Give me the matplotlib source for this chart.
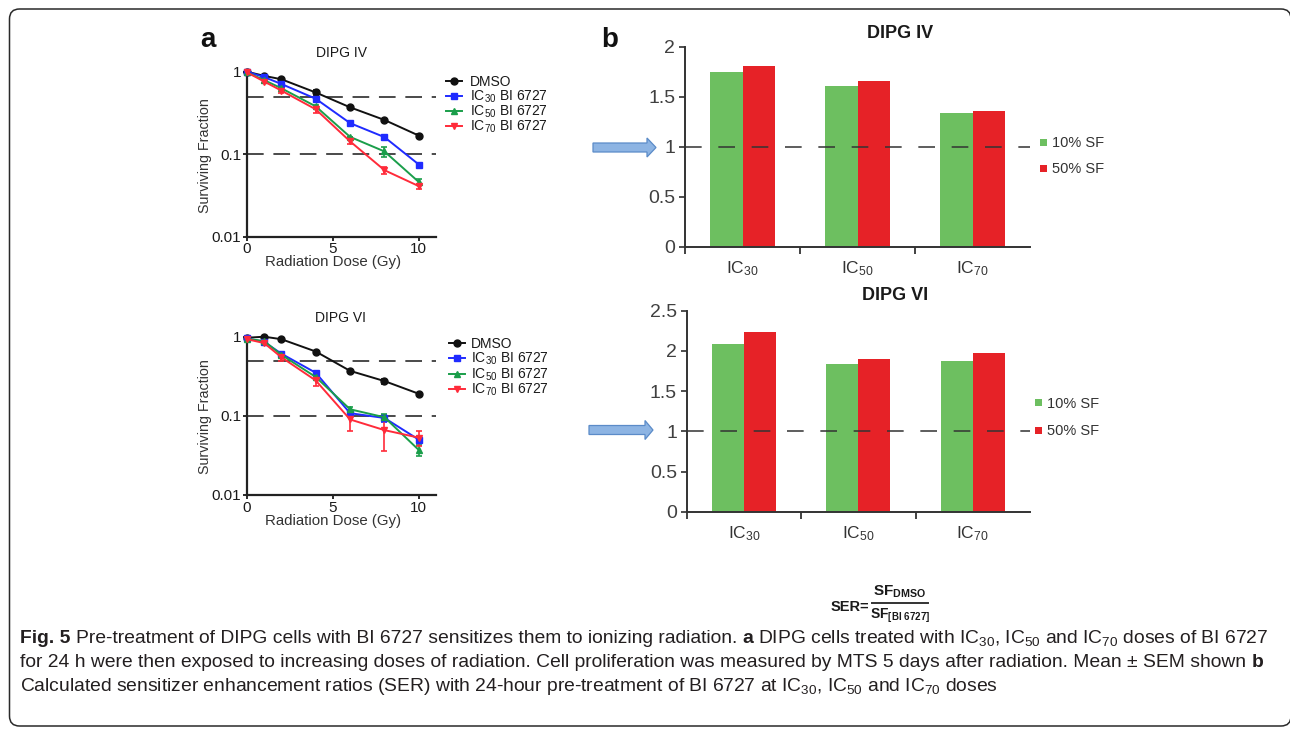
import matplotlib
matplotlib.use('Agg')
import matplotlib.pyplot as plt
from matplotlib.lines import Line2D
from matplotlib.patches import Rectangle, Polygon, FancyBboxPatch
from matplotlib.transforms import IdentityTransform
from matplotlib.ticker import NullLocator, FixedLocator
from matplotlib import font_manager

W, H = 1290, 730
plt.rcParams['font.family'] = ['Liberation Sans', 'DejaVu Sans']
plt.rcParams['mathtext.default'] = 'regular'
plt.rcParams['lines.scale_dashes'] = False

# ---------------- data ----------------
dose = [0, 1, 2, 4, 6, 8, 10]
series_labels = ['DMSO', 'IC$_{30}$ BI 6727', 'IC$_{50}$ BI 6727', 'IC$_{70}$ BI 6727']

# DIPG IV surviving fraction
dmso_iv = [1.0, 0.89, 0.81, 0.56, 0.37, 0.26, 0.168]
ic30_iv = [1.0, 0.86, 0.71, 0.47, 0.238, 0.161, 0.075]
ic50_iv = [0.98, 0.79, 0.63, 0.38, 0.162, 0.108, 0.046]
ic70_iv = [0.98, 0.76, 0.59, 0.35, 0.143, 0.064, 0.041]
dmso_iv_err = [0, 0, 0, 0.04, 0, 0, 0.01]
ic30_iv_err = [0, 0, 0, 0.02, 0, 0, 0.002]
ic50_iv_err = [0, 0, 0, 0.02, 0, 0.015, 0.004]
ic70_iv_err = [0, 0.04, 0.04, 0.03, 0.01, 0.006, 0.003]

# DIPG VI surviving fraction
dmso_vi = [0.97, 1.0, 0.93, 0.65, 0.37, 0.275, 0.19]
ic30_vi = [0.95, 0.86, 0.61, 0.35, 0.108, 0.094, 0.05]
ic50_vi = [0.94, 0.88, 0.59, 0.31, 0.121, 0.096, 0.037]
ic70_vi = [0.93, 0.83, 0.55, 0.28, 0.090, 0.066, 0.053]
dmso_vi_err = [0, 0, 0, 0, 0, 0.02, 0]
ic30_vi_err = [0, 0, 0, 0.02, 0.01, 0.01, 0.005]
ic50_vi_err = [0, 0, 0, 0.02, 0.01, 0.01, 0.006]
ic70_vi_err = [0, 0.05, 0.05, 0.04, 0.025, 0.03, 0.012]

# SER bars
ser_cats = ['IC$_{30}$', 'IC$_{50}$', 'IC$_{70}$']
ser_labels = ['10% SF', '50% SF']
ser_iv_10 = [1.75, 1.61, 1.34]
ser_iv_50 = [1.81, 1.66, 1.355]
ser_vi_10 = [2.09, 1.84, 1.87]
ser_vi_50 = [2.23, 1.90, 1.97]

line_colors = ['#111111', '#1f2bff', '#1a9e4a', '#ff2b3a']
line_markers = ['o', 's', '^', 'v']
bar_colors = ['#6dbf60', '#e62227']

# ---------------- figure ----------------
fig = plt.figure(figsize=(W / 100, H / 100), dpi=100)
fig.patch.set_facecolor('white')


def fx(x):
    return x / W


def fy(y):
    return 1 - y / H


def add_ax(l, t, r, b):
    return fig.add_axes([l / W, 1 - b / H, (r - l) / W, (b - t) / H])


# frame
frame = FancyBboxPatch((9.5, H - 726), 1291 - 9.5, 726 - 9, boxstyle='round,pad=0,rounding_size=10',
                       transform=IdentityTransform(), facecolor='none', edgecolor='#2a2a2a', lw=1.1)
fig.add_artist(frame)

TXT = '#1a1a1a'


def line_panel(box, title, title_xy, vals, errs, ylab_xy, xlab_xy):
    ax = add_ax(*box)
    for v, e, c, m in zip(vals, errs, line_colors, line_markers):
        ax.errorbar(dose, v, yerr=e, color=c, marker=m, ms=5, lw=1.4, elinewidth=1.2,
                    capsize=2.5, capthick=1.2, clip_on=False, zorder=3)
    ax.set_yscale('log')
    ax.set_ylim(0.01, 1)
    ax.set_xlim(0, 11)
    for yv in (0.5, 0.1):
        ax.axhline(yv, color='#4a4a4a', lw=1.4, ls=(0, (12, 7)), zorder=1)
    ax.yaxis.set_major_locator(FixedLocator([0.01, 0.1, 1]))
    ax.yaxis.set_minor_locator(NullLocator())
    ax.set_yticklabels(['0.01', '0.1', '1'])
    ax.set_xticks([0, 5, 10])
    ax.tick_params(direction='out', length=3, width=1.3, labelsize=11, pad=1, colors=TXT)
    for s in ('top', 'right'):
        ax.spines[s].set_visible(False)
    for s in ('left', 'bottom'):
        ax.spines[s].set_linewidth(1.6)
        ax.spines[s].set_color('#222222')
    fig.text(fx(title_xy[0]), fy(title_xy[1]), title, ha='center', va='center', fontsize=10, color=TXT)
    fig.text(fx(ylab_xy[0]), fy(ylab_xy[1]), 'Surviving Fraction', rotation=90, ha='center', va='center',
             fontsize=10.3, color='#333333')
    fig.text(fx(xlab_xy[0]), fy(xlab_xy[1]), 'Radiation Dose (Gy)', ha='center', va='center',
             fontsize=10.8, color='#333333')
    return ax


line_panel((247, 71.7, 436, 236.7), 'DIPG IV', (341, 53),
           [dmso_iv, ic30_iv, ic50_iv, ic70_iv], [dmso_iv_err, ic30_iv_err, ic50_iv_err, ic70_iv_err],
           (205, 156), (333, 262))
line_panel((247, 336.7, 436, 495), 'DIPG VI', (340, 318),
           [dmso_vi, ic30_vi, ic50_vi, ic70_vi], [dmso_vi_err, ic30_vi_err, ic50_vi_err, ic70_vi_err],
           (205, 417), (333, 521))


def line_legend(x0, x1, xt, ys):
    for lab, c, m, y in zip(series_labels, line_colors, line_markers, ys):
        fig.add_artist(Line2D([fx(x0), fx((x0 + x1) / 2), fx(x1)], [fy(y)] * 3, color=c, lw=1.4,
                              marker=m, markevery=[1], ms=5, transform=fig.transFigure))
        fig.text(fx(xt), fy(y + 4.6), lab, ha='left', va='baseline', fontsize=10, color=TXT)


line_legend(446, 462, 470, [81, 96, 111, 126])
line_legend(449, 465, 471, [343, 358, 374, 389])


def bar_panel(box, vals10, vals50, ymax, yticks, ytl, title, title_xy, leg_x, leg_ys):
    ax = add_ax(*box)
    x = list(range(len(ser_cats)))
    w = 0.28
    ax.bar([i - w / 2 for i in x], vals10, width=w, color=bar_colors[0], zorder=1)
    ax.bar([i + w / 2 for i in x], vals50, width=w, color=bar_colors[1], zorder=1)
    ax.axhline(1, color='#333333', lw=1.3, ls=(0, (12, 12)), zorder=3, alpha=0.85)
    ax.set_xlim(-0.5, 2.5)
    ax.set_ylim(0, ymax)
    ax.set_yticks(yticks)
    ax.set_yticklabels(ytl)
    ax.xaxis.set_major_locator(FixedLocator([-0.5, 0.5, 1.5]))
    ax.xaxis.set_minor_locator(FixedLocator(x))
    ax.set_xticklabels([], minor=False)
    ax.set_xticklabels(ser_cats, minor=True)
    ax.tick_params(axis='x', which='minor', length=0, pad=9, labelsize=12.5, colors='#333333')
    ax.tick_params(axis='x', which='major', length=5, width=1.3, direction='out', color='#333333')
    ax.tick_params(axis='y', length=4, width=1.3, direction='out', labelsize=14, pad=3, colors='#404040')
    for s in ('top', 'right'):
        ax.spines[s].set_visible(False)
    for s in ('left', 'bottom'):
        ax.spines[s].set_linewidth(1.4)
        ax.spines[s].set_color('#333333')
    fig.text(fx(title_xy[0]), fy(title_xy[1]), title, ha='center', va='center', fontsize=13,
             fontweight='bold', color=TXT)
    for lab, c, y in zip(ser_labels, bar_colors, leg_ys):
        fig.add_artist(Rectangle((fx(leg_x), fy(y + 3.5)), 7 / W, 7 / H, facecolor=c, edgecolor='none',
                                 transform=fig.transFigure))
        fig.text(fx(leg_x + 12), fy(y + 5), lab, ha='left', va='baseline', fontsize=10.5, color='#333333')
    return ax


bar_panel((685, 46.7, 1030, 246.7), ser_iv_10, ser_iv_50, 2, [0, 0.5, 1, 1.5, 2],
          ['0', '0.5', '1', '1.5', '2'], 'DIPG IV', (900, 33), 1040, [142, 168])
bar_panel((686.7, 310.7, 1030, 511.7), ser_vi_10, ser_vi_50, 2.5, [0, 0.5, 1, 1.5, 2, 2.5],
          ['0', '0.5', '1', '1.5', '2', '2.5'], 'DIPG VI', (895, 295), 1035, [403, 430])


# arrows
def arrow(x0, x1, xh, yc, bh, hh):
    pts = [(x0, yc - bh / 2), (x1, yc - bh / 2), (x1, yc - hh / 2), (xh, yc), (x1, yc + hh / 2),
           (x1, yc + bh / 2), (x0, yc + bh / 2)]
    fig.add_artist(Polygon([(fx(a), fy(b)) for a, b in pts], closed=True, facecolor='#8db4e3',
                           edgecolor='#5b8bc8', lw=0.9, transform=fig.transFigure))


arrow(593, 647, 656, 147.5, 9, 19)
arrow(589, 645, 653, 430, 9, 19)

# panel letters
fig.text(fx(208), fy(40), 'a', ha='center', va='center', fontsize=20, fontweight='bold', color='#111111')
fig.text(fx(610), fy(40), 'b', ha='center', va='center', fontsize=20, fontweight='bold', color='#111111')

# fonts for caption
avail = {f.name for f in font_manager.fontManager.ttflist}
cap_family = 'Liberation Sans Narrow' if 'Liberation Sans Narrow' in avail else 'Liberation Sans'

# SER formula
fig.text(fx(869), fy(611), 'SER=', ha='right', va='baseline', fontsize=10.5, fontweight='bold',
         family=cap_family, color=TXT)
fig.text(fx(900), fy(596), 'SF$_{DMSO}$', ha='center', va='baseline', fontsize=11, fontweight='bold',
         family=cap_family, color=TXT)
fig.text(fx(900), fy(619), 'SF$_{[BI\\ 6727]}$', ha='center', va='baseline', fontsize=10, fontweight='bold',
         family=cap_family, color=TXT)
fig.add_artist(Line2D([fx(872), fx(928)], [fy(603), fy(603)], color='#333333', lw=1.4,
                      transform=fig.transFigure))

# caption
cap_lines = [
    [('Fig. 5', True),
     ('Pre-treatment of DIPG cells with BI 6727 sensitizes them to ionizing radiation.', False),
     ('a', True),
     ('DIPG cells treated with IC$_{30}$, IC$_{50}$ and IC$_{70}$ doses of BI 6727', False)],
    [('for 24 h were then exposed to increasing doses of radiation. Cell proliferation was measured by MTS 5 days after radiation. Mean \u00b1 SEM shown', False),
     ('b', True)],
    [('Calculated sensitizer enhancement ratios (SER) with 24-hour pre-treatment of BI 6727 at IC$_{30}$, IC$_{50}$ and IC$_{70}$ doses', False)],
]
cap_baselines = [643, 667, 691]

renderer = fig.canvas.get_renderer()


def measure(s, size, bold):
    t = fig.text(0, 0, s, fontsize=size, fontweight='bold' if bold else 'normal', family=cap_family)
    w = t.get_window_extent(renderer).width
    t.remove()
    return w


def line_width(pieces, size):
    sp = measure('a a', size, False) - measure('aa', size, False)
    return sum(measure(s, size, b) for s, b in pieces) + sp * (len(pieces) - 1)


base = 10.0
target = 1272 - 20
cap_size = base * target / line_width(cap_lines[0], base)


def draw_line(x, y, pieces, size):
    sp = measure('a a', size, False) - measure('aa', size, False)
    for s, b in pieces:
        t = fig.text(fx(x), fy(y), s, fontsize=size, fontweight='bold' if b else 'normal', family=cap_family,
                     ha='left', va='baseline', color='#231f20')
        x += t.get_window_extent(renderer).width + sp


for pieces, yb in zip(cap_lines, cap_baselines):
    draw_line(20, yb, pieces, cap_size)

fig.savefig('out.png', dpi=100, facecolor='white')
